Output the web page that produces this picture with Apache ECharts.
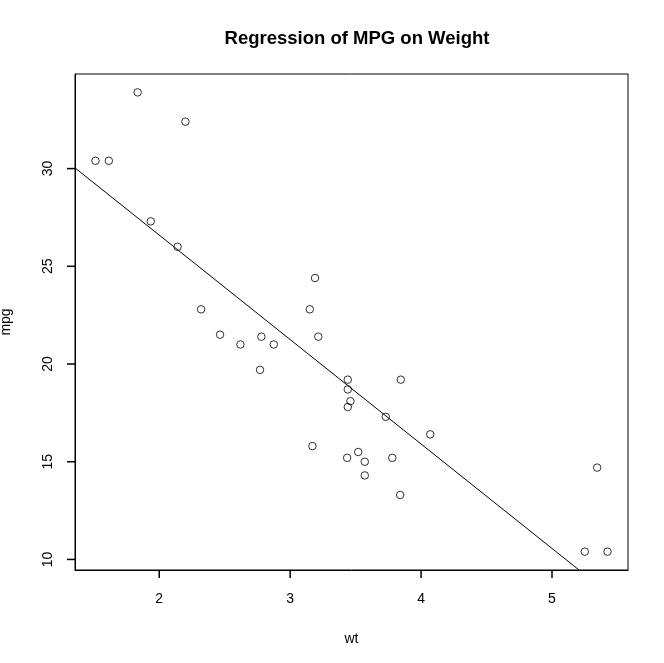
<!DOCTYPE html>
<html><head><meta charset="utf-8">
<script src="https://cdn.jsdelivr.net/npm/echarts@6/dist/echarts.min.js"></script>
<style>html,body{margin:0;padding:0;background:#fff}#c{width:664px;height:663px}</style>
</head><body><div id="c"></div>
<script>
// mtcars: weight (1000 lbs) and miles per gallon
const wt = [2.620,2.875,2.320,3.215,3.440,3.460,3.570,3.190,3.150,3.440,3.440,4.070,3.730,3.780,5.250,5.424,5.345,2.200,1.615,1.835,2.465,3.520,3.435,3.840,3.845,1.935,2.140,1.513,3.170,2.770,3.570,2.780];
const mpg = [21.0,21.0,22.8,21.4,18.7,18.1,14.3,24.4,22.8,19.2,17.8,16.4,17.3,15.2,10.4,10.4,14.7,32.4,30.4,33.9,21.5,15.5,15.2,13.3,19.2,27.3,26.0,30.4,15.8,19.7,15.0,21.4];
const xTicks = [2,3,4,5];
const yTicks = [10,15,20,25,30];

// R-style axis ranges (data range extended by 4%)
const xMinD = Math.min(...wt), xMaxD = Math.max(...wt);
const yMinD = Math.min(...mpg), yMaxD = Math.max(...mpg);
const xMin = xMinD - 0.04*(xMaxD-xMinD), xMax = xMaxD + 0.04*(xMaxD-xMinD);
const yMin = yMinD - 0.04*(yMaxD-yMinD), yMax = yMaxD + 0.04*(yMaxD-yMinD);

// least squares fit
const n = wt.length;
const mx = wt.reduce((a,b)=>a+b,0)/n, my = mpg.reduce((a,b)=>a+b,0)/n;
let sxy=0, sxx=0;
for (let i=0;i<n;i++){ sxy += (wt[i]-mx)*(mpg[i]-my); sxx += (wt[i]-mx)**2; }
const b1 = sxy/sxx, b0 = my - b1*mx;
const fitLine = [[xMin, b0+b1*xMin],[xMax, b0+b1*xMax]];

const font = 'Liberation Sans, Arial, sans-serif';
const TL = 8;    // tick length
const TW = 1.5;  // tick width
const chart = echarts.init(document.getElementById('c'));
chart.setOption({
  animation:false,
  backgroundColor:'#fff',
  title:{text:'Regression of MPG on Weight', left:352, top:24, textAlign:'center',
    textStyle:{fontFamily:font, fontSize:18.5, fontWeight:'bold', color:'#000'}},
  grid:{left:75, right:36, top:74, bottom:93, outerBoundsMode:'none',
    show:true, borderColor:'#000', borderWidth:1},
  xAxis:{type:'value', min:xMin, max:xMax, name:'wt', nameLocation:'middle', nameGap:62,
    nameTextStyle:{fontFamily:font, fontSize:14, color:'#000'},
    splitLine:{show:false}, axisLine:{show:true, onZero:false, lineStyle:{color:'#000', width:1}},
    axisTick:{show:false},
    axisLabel:{customValues:xTicks, margin:22, fontFamily:font, fontSize:14, color:'#000'}},
  yAxis:{type:'value', min:yMin, max:yMax, name:'mpg', nameLocation:'middle', nameGap:62, nameRotate:90,
    nameTextStyle:{fontFamily:font, fontSize:14, color:'#000'},
    splitLine:{show:false}, axisLine:{show:true, onZero:false, lineStyle:{color:'#000', width:1}},
    axisTick:{show:false},
    axisLabel:{customValues:yTicks, rotate:90, margin:27, fontFamily:font, fontSize:14, color:'#000', align:'center', verticalAlign:'middle'}},
  series:[
    {type:'scatter', data:wt.map((w,i)=>[w,mpg[i]]), symbol:'circle', symbolSize:7.5,
      itemStyle:{color:'rgba(0,0,0,0)', borderColor:'#000', borderWidth:1}},
    {type:'line', data:fitLine, symbol:'none', clip:true, lineStyle:{color:'#000', width:1}},
    {type:'custom', data:xTicks.map(v=>[v, yMin]), renderItem:function(params, api){
       const p = api.coord([api.value(0), api.value(1)]);
       return {type:'rect', shape:{x:p[0]-TW/2, y:p[1], width:TW, height:TL}, style:{fill:'#000'}};
    }},
    {type:'custom', data:yTicks.map(v=>[xMin, v]), renderItem:function(params, api){
       const p = api.coord([api.value(0), api.value(1)]);
       return {type:'rect', shape:{x:p[0]-TL, y:p[1]-TW/2, width:TL, height:TW}, style:{fill:'#000'}};
    }}
  ]
});
</script></body></html>
